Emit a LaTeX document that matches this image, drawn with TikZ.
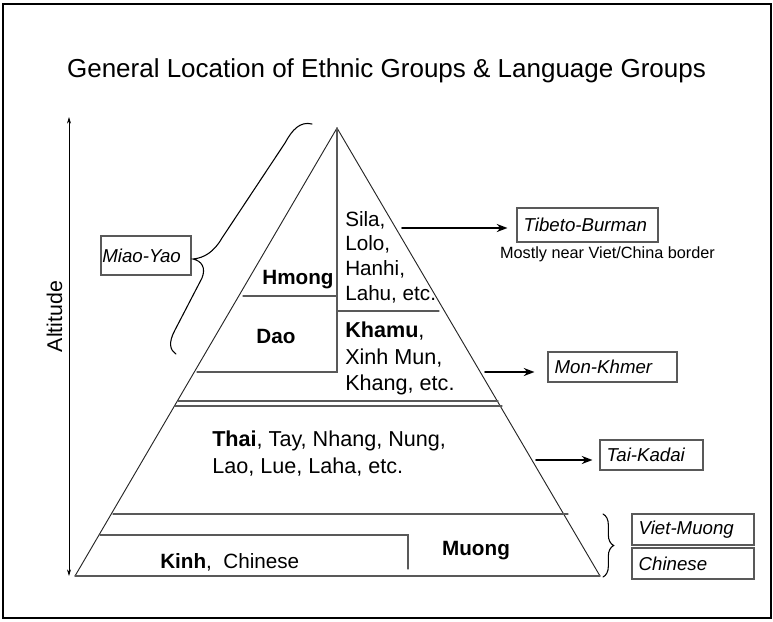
\documentclass[tikz,border=0pt]{standalone}
\usepackage{fontspec}
\setmainfont{Liberation Sans}
\usetikzlibrary{arrows.meta,decorations.pathreplacing}
\definecolor{lineA}{rgb}{0.15,0.15,0.15}
\definecolor{lineB}{rgb}{0.35,0.35,0.35}

\begin{document}
\begin{tikzpicture}[x=0.75pt, y=-0.75pt, >=Stealth, line cap=round,
  grp/.style={font=\fontsize{15.5}{19.5}\selectfont, inner sep=0pt, align=left},
  grpwide/.style={grp, font=\fontsize{16.2}{19.6}\selectfont},
  langbox/.style={draw=lineB, line width=0.8pt, font=\fontsize{14}{16}\selectfont\itshape, align=left, inner xsep=5pt, inner ysep=0pt},
  layer/.style={draw=lineB, line width=0.9pt},
  pointer/.style={-{Stealth[length=8pt,width=6pt]}, line width=1.5pt}]
\useasboundingbox (0,0) rectangle (773,621);
\draw[line width=1.5pt] (3,4) rectangle (771,618);
\node[font=\fontsize{19.5}{22}\selectfont, anchor=base] (title) at (386.5,77) {General Location of Ethnic Groups \& Language Groups};
% ---------- Altitude ----------
\coordinate (alt-top) at (69,117);
\coordinate (alt-bot) at (69,576);
\draw[{Stealth[length=5pt,width=3pt]}-{Stealth[length=5pt,width=3pt]}, line width=0.6pt] (alt-top) -- (alt-bot);
\node[grp, font=\fontsize{16}{19}\selectfont, rotate=90, anchor=base] (altitude) at (62,316.5) {Altitude};
% ---------- pyramid ----------
\coordinate (apex) at (337,128);
\coordinate (baseL) at (75,576);
\coordinate (baseR) at (600,576);
\draw[draw=lineA, line width=0.7pt] (baseL) -- (apex) -- (baseR);
\draw[layer] (baseL) -- (baseR);
\draw[layer] (apex) -- (337,372) -- (197,372);
\draw[layer] (243,296) -- (337,296);
\draw[layer] (337,311) -- (439,311);
\draw[layer] (178,401) -- (498,401);
\draw[layer] (175,406) -- (502,406);
\draw[layer] (113,514) -- (568,514);
\draw[layer] (100,535) -- (408,535) -- (408,569);
% groups
\node[grp, anchor=base] (hmong) at (298,284) {\bfseries Hmong};
\node[grp, anchor=base] (dao) at (276,343) {\bfseries Dao};
\node[grp, font=\fontsize{15.5}{18.5}\selectfont, anchor=north west] (sila) at (345,211) {Sila,\\Lolo,\\Hanhi,\\Lahu, etc.};
\node[grpwide, anchor=north west] (khamu) at (345,322) {\textbf{Khamu},\\Xinh Mun,\\Khang, etc.};
\node[grpwide, anchor=north west] (thai) at (212,431) {\textbf{Thai}, Tay, Nhang, Nung,\\Lao, Lue, Laha, etc.};
\node[grp, anchor=base west] (kinh) at (160,568) {\textbf{Kinh},\ \ Chinese};
\node[grp, anchor=base] (muong) at (476,555) {\bfseries Muong};
% ---------- language groups ----------
\node[langbox, text width=95.75pt, minimum height=25.5pt] (tibeto) at (587.5,225) {Tibeto-Burman};
\node[font=\fontsize{12.2}{14}\selectfont, anchor=base] (border) at (607.5,258) {Mostly near Viet/China border};
\node[langbox, text width=86.75pt, minimum height=22.5pt] (monkhmer) at (612.5,367) {Mon-Khmer};
\node[langbox, text width=67.25pt, minimum height=22.5pt] (taikadai) at (651.5,455) {Tai-Kadai};
\node[langbox, text width=81.5pt, minimum height=23.25pt] (vietmuong) at (693,529.5) {Viet-Muong};
\node[langbox, text width=81.5pt, minimum height=23.25pt] (chinese) at (693,563.5) {Chinese};
\node[langbox, inner xsep=1pt, text width=65.5pt, minimum height=29.25pt] (miaoyao) at (146,255.5) {Miao-Yao};
% arrows
\coordinate (tb-from) at (402,228);
\coordinate (mk-from) at (485,372);
\coordinate (tk-from) at (536,460);
\draw[pointer, shorten >=6.75pt] (tb-from) -- (tibeto.west |- tb-from);
\draw[pointer, shorten >=9.75pt] (mk-from) -- (monkhmer.west |- mk-from);
\draw[pointer, shorten >=5.25pt] (tk-from) -- (taikadai.west |- tk-from);
% braces
\coordinate (vm-top) at (603,514);
\coordinate (vm-bot) at (603,577);
\draw[decorate, decoration={brace, amplitude=8pt}, line width=0.8pt] (vm-top) -- (vm-bot);
\draw[line width=0.8pt] (312,124) .. controls (300,121) and (292,130) .. (285,143) -- (222,238) .. controls (214,252) and (204,258) .. (193,259) .. controls (202,261) and (206,268) .. (202,278) -- (175,330) .. controls (168,343) and (170,350) .. (176,354);
\end{tikzpicture}
\end{document}
